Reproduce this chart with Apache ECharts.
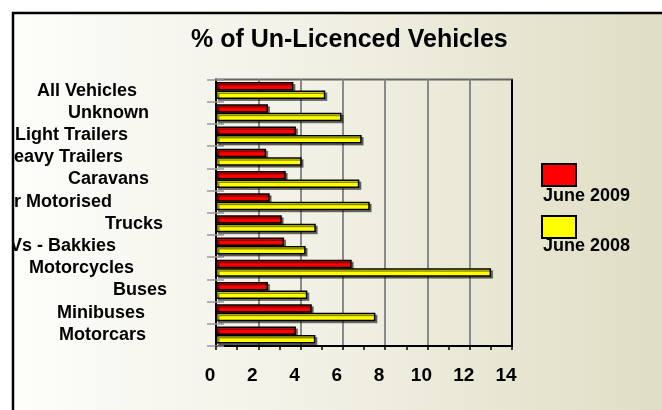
<!DOCTYPE html>
<html lang="en">
<head>
    <meta charset="UTF-8">
    <title>% of Un-Licenced Vehicles</title>
    <script src="https://cdn.jsdelivr.net/npm/echarts@6/dist/echarts.min.js"></script>
    <style type="text/css">
    html, body { margin:0; padding:0; background:#ffffff; }
    #chart { width:662px; height:410px; }
    </style>
</head>
<body>
<div id="chart"></div>
<script type="text/javascript">
// categories, bottom to top (echarts draws the first category at the bottom)
var categories = ['Motorcars', 'Minibuses', 'Buses', 'Motorcycles', 'LDVs - Bakkies', 'Trucks',
    'Other Motorised', 'Caravans', 'Heavy Trailers', 'Light Trailers', 'Unknown', 'All Vehicles'];
var june2009 = [3.78, 4.53, 2.46, 6.42, 3.22, 3.11, 2.54, 3.30, 2.37, 3.78, 2.46, 3.66];
var june2008 = [4.70, 7.54, 4.32, 13.01, 4.24, 4.72, 7.27, 6.78, 4.05, 6.89, 5.94, 5.17];
var seriesNames = ['June 2009', 'June 2008'];

// labels in the original are not aligned the same way: right padding per label
var labelPad = [60, 61, 39, 72, 90, 43, 94, 57, 83, 78, 57, 69];

var rich = {};
labelPad.forEach(function (p, i) {
    rich['r' + i] = { fontSize: 18, fontWeight: 'bold', color: '#000', padding: [0, p, 0, 0] };
});

var myChart = echarts.init(document.getElementById('chart'));
var font = 'Arial, "Liberation Sans", sans-serif';
var barStyle = function (c) {
    return {
        color: c,
        borderColor: '#000',
        borderWidth: 1.5,
        shadowColor: 'rgba(0,0,0,0.45)',
        shadowOffsetX: 2,
        shadowOffsetY: 2
    };
};

option = {
    animation: false,
    textStyle: { fontFamily: font },
    title: {
        text: '% of Un-Licenced Vehicles',
        left: 186,
        top: 23,
        textStyle: { fontSize: 25, fontWeight: 'bold', color: '#000', fontFamily: font }
    },
    graphic: [
        {
            type: 'rect', z: -10, silent: true,
            shape: { x: 13, y: 13, width: 700, height: 450 },
            style: {
                fill: new echarts.graphic.LinearGradient(0, 0, 1, 0, [
                    { offset: 0, color: '#fdfdfa' },
                    { offset: 0.45, color: '#f1f0e4' },
                    { offset: 1, color: '#dddbbf' }
                ])
            }
        },
        {
            type: 'rect', z: 100, silent: true,
            shape: { x: 0, y: 0, width: 12, height: 410 },
            style: { fill: '#ffffff' }
        },
        {
            type: 'polyline', z: 101, silent: true,
            shape: { points: [[13, 410], [13, 13], [662, 13]] },
            style: { stroke: '#000', lineWidth: 2.5, fill: null }
        }
    ],
    legend: [
        {
            data: seriesNames,
            orient: 'vertical',
            left: 541,
            top: 163,
            padding: 0,
            icon: 'rect',
            itemWidth: 34,
            itemHeight: 22,
            itemGap: 28,
            selectedMode: false,
            formatter: function () { return ''; },
            textStyle: { fontSize: 1 }
        },
        {
            data: seriesNames,
            orient: 'vertical',
            left: 537,
            top: 186,
            padding: 0,
            icon: 'rect',
            itemWidth: 1,
            itemHeight: 1,
            itemGap: 30,
            selectedMode: false,
            itemStyle: { color: 'transparent', borderWidth: 0, shadowColor: 'transparent' },
            textStyle: { fontSize: 18, fontWeight: 'bold', color: '#000', lineHeight: 20, fontFamily: font }
        }
    ],
    grid: {
        left: 216,
        right: 150,
        top: 79.5,
        bottom: 64,
        containLabel: false,
        outerBoundsMode: 'none',
        show: true,
        borderColor: '#666',
        borderWidth: 2,
        backgroundColor: 'transparent'
    },
    xAxis: {
        type: 'value',
        min: 0,
        max: 14,
        interval: 2,
        axisLine: { show: true, lineStyle: { color: '#000', width: 2 } },
        axisTick: { show: true, length: 4, lineStyle: { color: '#000', width: 1.5 } },
        minorTick: { show: true, splitNumber: 2, length: 4, lineStyle: { color: '#000', width: 1.5 } },
        splitLine: {
            show: true,
            lineStyle: {
                color: ['transparent', '#8a8a8a', '#8a8a8a', '#8a8a8a', '#8a8a8a', '#8a8a8a', '#8a8a8a', '#000'],
                width: 2
            }
        },
        axisLabel: {
            margin: 20, fontSize: 19, fontWeight: 'bold', color: '#000', fontFamily: font,
            padding: [0, 12, 0, 0]
        }
    },
    yAxis: [
        {
            type: 'category',
            data: categories,
            axisLine: { show: true, lineStyle: { color: '#000', width: 2 } },
            axisTick: { show: true, length: 9, lineStyle: { color: '#999', width: 1.5 } },
            axisLabel: {
                margin: 10,
                fontFamily: font,
                formatter: function (v, i) { return '{r' + i + '|' + v + '}'; },
                rich: rich
            }
        },
        {
            type: 'category',
            data: categories,
            position: 'left',
            axisLine: { show: false },
            axisTick: { show: true, inside: true, length: 8, lineStyle: { color: '#999', width: 1.5 } },
            axisLabel: { show: false }
        }
    ],
    series: [
        {
            name: 'June 2009',
            type: 'bar',
            data: june2009,
            barWidth: 8.5,
            barGap: '0%',
            itemStyle: barStyle('#ff0000')
        },
        {
            name: 'June 2008',
            type: 'bar',
            data: june2008,
            barWidth: 8.5,
            barGap: '0%',
            itemStyle: barStyle('#ffff00')
        }
    ]
};
myChart.setOption(option);
</script>
</body>
</html>
